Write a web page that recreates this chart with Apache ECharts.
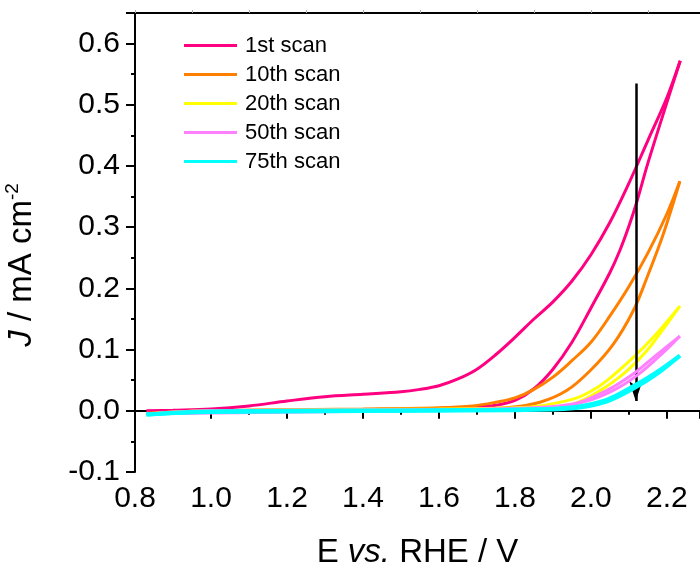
<!DOCTYPE html>
<html>
<head>
<meta charset="utf-8">
<title>CV scans</title>
<script src="https://cdn.jsdelivr.net/npm/echarts@6/dist/echarts.min.js"></script>
<style>
	html, body { margin:0; padding:0; background:#fff; }
	#main { width:700px; height:566px; }
</style>
</head>
<body>
<div id="main"></div>
<script>
// [E (V vs RHE), J (mA cm-2)] - forward and reverse branch of every scan
var scan1Fwd = [[0.83,0.000],[0.9,0.001],[1.0,0.003],[1.1,0.008],[1.2,0.016],[1.3,0.023],[1.4,0.027],[1.5,0.031],[1.55,0.035],[1.6,0.041],[1.65,0.052],[1.7,0.068],[1.75,0.092],[1.8,0.120],[1.85,0.150],[1.9,0.178],[1.95,0.212],[2.0,0.255],[2.05,0.308],[2.1,0.372],[2.15,0.442],[2.2,0.512],[2.235,0.572]];
var scan1Rev = [[2.235,0.572],[2.2,0.504],[2.15,0.405],[2.12,0.340],[2.1,0.302],[2.076,0.262],[2.05,0.226],[2.0,0.168],[1.95,0.112],[1.9,0.068],[1.85,0.036],[1.8,0.017],[1.75,0.009],[1.7,0.006],[1.6,0.004],[1.4,0.002],[1.2,0.001],[1.0,0.000],[0.83,-0.004]];
var scan10Fwd = [[0.83,-0.004],[1.0,0.000],[1.4,0.003],[1.6,0.005],[1.69,0.008],[1.75,0.014],[1.8,0.021],[1.85,0.035],[1.9,0.055],[1.95,0.082],[2.0,0.112],[2.05,0.155],[2.1,0.203],[2.15,0.258],[2.2,0.322],[2.234,0.375]];
var scan10Rev = [[2.234,0.375],[2.19,0.288],[2.147,0.217],[2.111,0.163],[2.059,0.109],[1.997,0.065],[1.936,0.033],[1.866,0.014],[1.778,0.005],[1.6,0.002],[1.0,-0.001],[0.83,-0.005]];
var scan20Fwd = [[0.83,-0.005],[1.0,0.000],[1.6,0.003],[1.8,0.005],[1.866,0.008],[1.953,0.019],[2.0,0.032],[2.041,0.049],[2.111,0.087],[2.164,0.120],[2.234,0.171]];
var scan20Rev = [[2.234,0.171],[2.199,0.141],[2.147,0.098],[2.094,0.065],[2.024,0.033],[1.953,0.011],[1.85,0.004],[1.6,0.001],[1.0,-0.001],[0.83,-0.005]];
var scan50Fwd = [[0.83,-0.005],[1.0,0.000],[1.6,0.002],[1.8,0.004],[1.953,0.011],[2.041,0.033],[2.111,0.060],[2.164,0.087],[2.234,0.122]];
var scan50Rev = [[2.234,0.122],[2.19,0.095],[2.13,0.062],[2.07,0.037],[2.0,0.018],[1.9,0.005],[1.6,0.001],[0.83,-0.005]];
var scan75Fwd = [[0.83,-0.006],[1.0,-0.001],[1.6,0.001],[1.8,0.002],[1.953,0.006],[2.041,0.018],[2.111,0.040],[2.173,0.063],[2.234,0.090]];
var scan75Rev = [[2.234,0.090],[2.173,0.060],[2.111,0.036],[2.041,0.015],[1.953,0.004],[1.8,0.001],[1.0,-0.002],[0.83,-0.006]];

var scanNames = ['1st scan','10th scan','20th scan','50th scan','75th scan'];
var scanColors = ['#ff0080','#ff8000','#ffff00','#ff80ff','#00ffff'];
var scanData = [[scan1Fwd,scan1Rev],[scan10Fwd,scan10Rev],[scan20Fwd,scan20Rev],[scan50Fwd,scan50Rev],[scan75Fwd,scan75Rev]];

// arrow showing the decay of current with scan number
var arrowFrom = [2.118, 0.535];
var arrowTo = [2.118, 0.016];

var font = '"Liberation Sans", Arial, sans-serif';

series = [];
for(i=0;i<scanNames.length;i++)
{
	for(j=0;j<2;j++)
	{
		series.push({
			name: scanNames[i],
			type: 'line',
			data: scanData[i][j],
			showSymbol: false,
			symbol: 'none',
			smooth: 0.35,
			color: scanColors[i],
			lineStyle: {color: scanColors[i], width: (i == 4 ? 4 : 3)},
			z: 2 + i
		});
	}
}
series.push({
	type: 'line',
	data: [],
	silent: true,
	markLine: {
		silent: true,
		symbol: ['none','arrow'],
		symbolSize: [10, 20],
		label: {show: false},
		lineStyle: {color: '#000', width: 2.5, type: 'solid'},
		data: [[{coord: arrowFrom}, {coord: arrowTo}]]
	},
	z: 10
});

var dom = document.getElementById("main");
var myChart = echarts.init(dom);

option = {
	animation: false,
	textStyle: {fontFamily: font},
	grid: {left: 135, top: 13, right: 0, bottom: 94, outerBoundsMode: 'none', containLabel: false},
	legend: {
		data: scanNames,
		orient: 'vertical',
		left: 184,
		top: 31,
		padding: 0,
		itemWidth: 53,
		itemHeight: 3,
		itemGap: 0,
		icon: 'rect',
		textStyle: {fontFamily: font, fontSize: 22, color: '#000', lineHeight: 29, padding: [0,0,0,3]}
	},
	xAxis: [{
		type: 'value',
		min: 0.8,
		max: 2.287,
		interval: 0.2,
		position: 'bottom',
		name: '{n|E }{i|vs.}{n| RHE / V}',
		nameLocation: 'middle',
		nameGap: 64,
		nameTextStyle: {
			rich: {
				n: {fontFamily: font, fontSize: 33, color: '#000'},
				i: {fontFamily: font, fontSize: 33, color: '#000', fontStyle: 'italic'}
			}
		},
		axisLine: {lineStyle: {color: '#000', width: 2}},
		axisTick: {inside: false, length: 8, lineStyle: {color: '#000', width: 2}},
		minorTick: {show: true, splitNumber: 2, length: 4, lineStyle: {color: '#000', width: 2}},
		axisLabel: {
			fontFamily: font, fontSize: 30, color: '#000', margin: 12, showMaxLabel: false,
			formatter: function(v){
				if(Math.abs(v*5 - Math.round(v*5)) > 1e-6) return '';
				return v.toFixed(1);
			}
		},
		splitLine: {show: false}
	},{
		type: 'value',
		min: 0.8,
		max: 2.287,
		interval: 0.15,
		position: 'top',
		axisLine: {lineStyle: {color: '#000', width: 2}},
		axisTick: {inside: false, length: 3, lineStyle: {color: '#aaa', width: 1}},
		axisLabel: {show: false},
		splitLine: {show: false}
	}],
	yAxis: {
		type: 'value',
		min: -0.1,
		max: 0.65,
		interval: 0.1,
		name: '{i|J}{n| / mA cm}{s|-2}',
		nameLocation: 'middle',
		nameRotate: 90,
		nameGap: 94,
		nameTextStyle: {
			padding: [0, 45, 0, 0],
			rich: {
				n: {fontFamily: font, fontSize: 33, color: '#000', lineHeight: 38},
				i: {fontFamily: font, fontSize: 33, color: '#000', fontStyle: 'italic', lineHeight: 38},
				s: {fontFamily: font, fontSize: 19, color: '#000', verticalAlign: 'top', lineHeight: 38}
			}
		},
		axisLine: {lineStyle: {color: '#000', width: 2}},
		axisTick: {inside: false, length: 9, lineStyle: {color: '#000', width: 2}},
		minorTick: {show: true, splitNumber: 2, length: 4, lineStyle: {color: '#000', width: 2}},
		axisLabel: {
			fontFamily: font, fontSize: 30, color: '#000', margin: 15, showMaxLabel: false,
			formatter: function(v){
				if(Math.abs(v*10 - Math.round(v*10)) > 1e-6) return '';
				return v.toFixed(1);
			}
		},
		splitLine: {show: false}
	},
	series: series
};

myChart.setOption(option, true);
</script>
</body>
</html>
